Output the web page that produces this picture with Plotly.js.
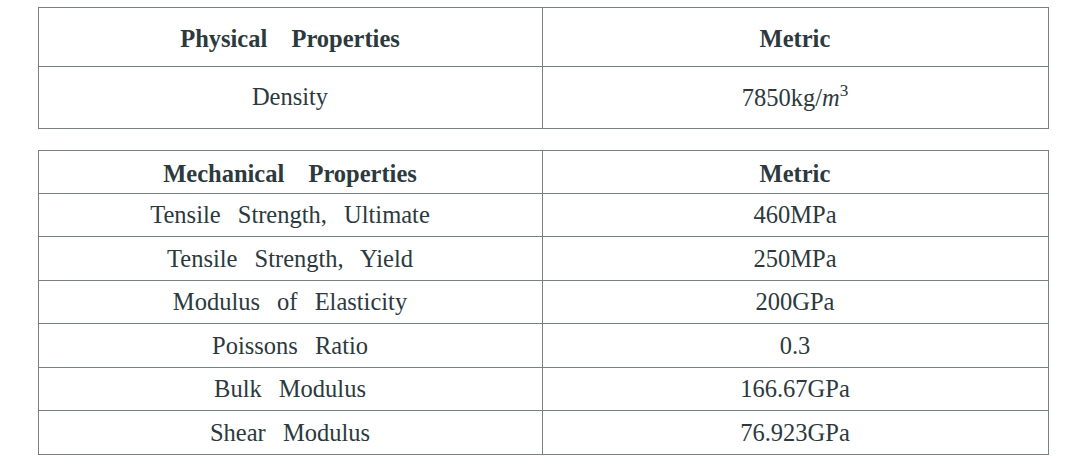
<!DOCTYPE html>
<html>
<head>
<meta charset="utf-8">
<script src="https://cdn.plot.ly/plotly-3.0.1.min.js"></script>
<style>
html,body{margin:0;padding:0;background:#fff;}
#chart{width:1086px;height:472px;}
#chart .table .cell-text{word-spacing:11px;}
#chart .table #header .cell-text{word-spacing:18px;}
/* vertical centring of the cell text, switched on once the tables are laid out */
#chart.centred .table:not(.table ~ .table) #header .cell-text{transform:translateY(10px);}
#chart.centred .table:not(.table ~ .table) .column-block:not(#header) .cell-text{transform:translateY(13px);}
#chart.centred .table ~ .table #header .cell-text{transform:translateY(2px);}
#chart.centred .table ~ .table .column-block:not(#header) .cell-text{transform:translateY(4px);}
#chart.centred .table .cell-text[data-unformatted*="sup"]{transform:translateY(7px) !important;}
</style>
</head>
<body>
<div id="chart"></div>
<script>
var physHeader = ['Physical Properties', 'Metric'];
var physProps = ['Density'];
var physValues = ['7850kg/<i>m</i><sup>3</sup>'];

var mechHeader = ['Mechanical Properties', 'Metric'];
var mechProps = ['Tensile Strength, Ultimate', 'Tensile Strength, Yield', 'Modulus of Elasticity', 'Poissons Ratio', 'Bulk Modulus', 'Shear Modulus'];
var mechValues = ['460MPa', '250MPa', '200GPa', '0.3', '166.67GPa', '76.923GPa'];

var W = 1086, H = 472;
var fontFam = '"Liberation Serif", "DejaVu Serif", serif';
var txtCol = '#2c393d';
var lineCol = '#7a7f80';
var FS = 24.5;

function bold(a){ return a.map(function(s){ return '<b>' + s + '</b>'; }); }

var t1 = {
  type: 'table',
  domain: {x: [38/W, 1048/W], y: [1 - 129/H, 1 - 7/H]},
  columnwidth: [504, 506],
  header: {
    values: bold(physHeader),
    align: 'center',
    height: 59,
    line: {color: lineCol, width: 1},
    fill: {color: '#ffffff'},
    font: {family: fontFam, size: FS, color: txtCol}
  },
  cells: {
    values: [physProps, physValues],
    align: 'center',
    height: 62,
    line: {color: lineCol, width: 1},
    fill: {color: '#ffffff'},
    font: {family: fontFam, size: FS, color: txtCol}
  }
};

var t2 = {
  type: 'table',
  domain: {x: [38/W, 1048/W], y: [1 - 455/H, 1 - 150/H]},
  columnwidth: [504, 506],
  header: {
    values: bold(mechHeader),
    align: 'center',
    height: 43,
    line: {color: lineCol, width: 1},
    fill: {color: '#ffffff'},
    font: {family: fontFam, size: FS, color: txtCol}
  },
  cells: {
    values: [mechProps, mechValues],
    align: 'center',
    height: 43.5,
    line: {color: lineCol, width: 1},
    fill: {color: '#ffffff'},
    font: {family: fontFam, size: FS, color: txtCol}
  }
};

var layout = {
  width: W, height: H,
  margin: {l: 0, r: 0, t: 0, b: 0},
  paper_bgcolor: '#ffffff',
  showlegend: false
};

Plotly.newPlot('chart', [t1, t2], layout, {displayModeBar: false, staticPlot: true}).then(function(){
  document.getElementById('chart').classList.add('centred');
});
</script>
</body>
</html>
